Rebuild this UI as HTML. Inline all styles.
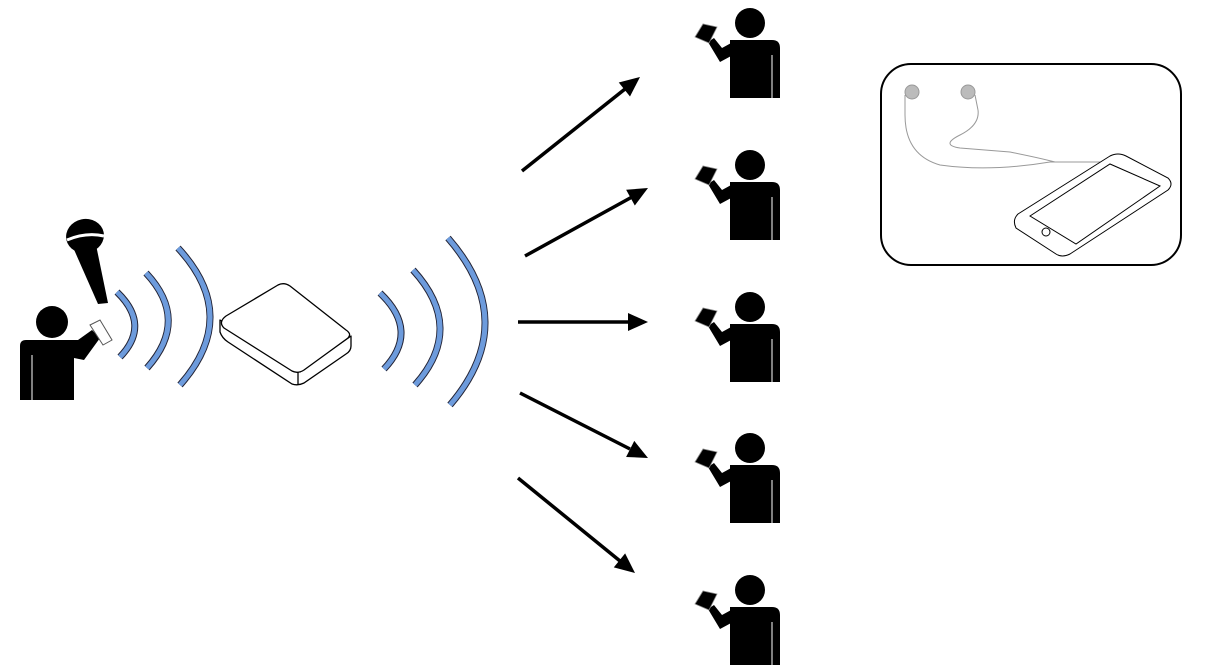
<!DOCTYPE html>
<html><head><meta charset="utf-8"><style>html,body{margin:0;padding:0;background:#fff}svg{display:block}</style></head>
<body>
<svg width="1210" height="670" viewBox="0 0 1210 670" xmlns="http://www.w3.org/2000/svg">
<defs>
<marker id="ah" markerWidth="10" markerHeight="10" refX="8" refY="5" orient="auto" markerUnits="userSpaceOnUse" viewBox="0 0 10 10">
</marker>
<g id="person">
  <circle cx="750" cy="23" r="15" fill="#000"/>
  <path d="M730 40 H772 Q780 40 780 48 V98 H730 Z" fill="#000"/>
  <line x1="772" y1="55" x2="772" y2="98" stroke="#fff" stroke-width="1"/>
  <path d="M733 42 L733 55 L720 62 L708 42 L714 38 L722 48 Z" fill="#000"/>
  <path d="M695 37 L703 24 L717 27 L709 43 Z" fill="#000" stroke="#888" stroke-width="0.8"/>
</g>
<g id="arrowhead"><path d="M0 0 L-20 -9 L-20 9 Z" fill="#000"/></g>
</defs>

<!-- left person -->
<circle cx="52" cy="322" r="16" fill="#000"/>
<path d="M26 340 H78 L92 330 L100 338 L84 360 L74 358 V400 H20 V346 Q20 340 26 340 Z" fill="#000"/>
<line x1="32" y1="355" x2="32" y2="400" stroke="#fff" stroke-width="1"/>
<path d="M90 325 L100 320 L112 340 L103 345 Z" fill="#fff" stroke="#555" stroke-width="1"/>
<!-- mic -->
<path d="M72 245 L95 240 L108 303 L98 304 Z" fill="#000"/>
<ellipse cx="85" cy="236" rx="19" ry="17" fill="#000" transform="rotate(-12 85 236)"/>
<path d="M67 240 Q86 232 104 236" stroke="#fff" stroke-width="3" fill="none"/>

<!-- arcs -->
<g fill="none" stroke-linecap="butt">
<g stroke="#223" stroke-width="7">
<path d="M117 292 Q151 325 120 357"/><path d="M146 273 Q190 320 147 368"/><path d="M178 248 Q241 316 180 385"/>
<path d="M380 293 Q420 331 384 369"/><path d="M413 270 Q466 328 415 385"/><path d="M448 238 Q521 322 450 405"/>
</g>
<g stroke="#6d9bdc" stroke-width="5">
<path d="M117 292 Q151 325 120 357"/><path d="M146 273 Q190 320 147 368"/><path d="M178 248 Q241 316 180 385"/>
<path d="M380 293 Q420 331 384 369"/><path d="M413 270 Q466 328 415 385"/><path d="M448 238 Q521 322 450 405"/>
</g>
</g>

<!-- box -->
<g fill="#fff" stroke="#000" stroke-width="1.3" stroke-linejoin="round">
<path d="M220 320 L220 332 Q222 338 228 342 L292 384 Q298 386 304 383 L346 354 Q351 351 351 346 L351 336 L300 372 Z"/>
<path d="M226 316 L278 285 Q284 282 290 286 L346 330 Q352 334 348 338 L304 370 Q298 374 292 371 L224 328 Q218 322 226 316 Z"/>
<line x1="298" y1="372" x2="298" y2="385"/>
</g>

<!-- arrows -->
<g stroke="#000" stroke-width="3.5">
<line x1="522" y1="171" x2="625" y2="89"/>
<line x1="525" y1="256" x2="632" y2="197"/>
<line x1="518" y1="322" x2="630" y2="322"/>
<line x1="520" y1="393" x2="630" y2="449"/>
<line x1="518" y1="478" x2="620" y2="561"/>
</g>
<use href="#arrowhead" transform="translate(640,77) rotate(-38.6)"/>
<use href="#arrowhead" transform="translate(648,188) rotate(-28.8)"/>
<use href="#arrowhead" transform="translate(648,322)"/>
<use href="#arrowhead" transform="translate(648,458) rotate(27)"/>
<use href="#arrowhead" transform="translate(635,573) rotate(39)"/>

<!-- persons -->
<use href="#person"/>
<use href="#person" transform="translate(0,142)"/>
<use href="#person" transform="translate(0,284)"/>
<use href="#person" transform="translate(0,425)"/>
<use href="#person" transform="translate(0,567)"/>

<!-- earphones box -->
<rect x="881" y="64" width="300" height="201" rx="30" fill="#fff" stroke="#000" stroke-width="2"/>
<g fill="none" stroke="#999" stroke-width="1">
<circle cx="912" cy="92" r="7" fill="#bbb"/><circle cx="968" cy="92" r="7" fill="#bbb"/>
<path d="M905 95 L905 115 M975 95 L978 110"/>
<path d="M905 115 Q905 155 940 165 Q990 172 1050 162 L1100 162"/>
<path d="M978 110 Q980 125 960 135 Q940 145 960 148 L1010 152 Q1040 158 1055 162"/>
</g>
<g fill="none" stroke="#000" stroke-width="1">
<path d="M1018 214 L1110 156 Q1118 152 1126 156 L1168 178 Q1174 184 1168 190 L1070 254 Q1062 258 1056 254 L1016 228 Q1012 220 1018 214 Z"/>
<path d="M1030 216 L1110 164 L1160 186 L1076 244 Z"/>
<circle cx="1046" cy="232" r="4"/>
</g>
</svg>
</body></html>
